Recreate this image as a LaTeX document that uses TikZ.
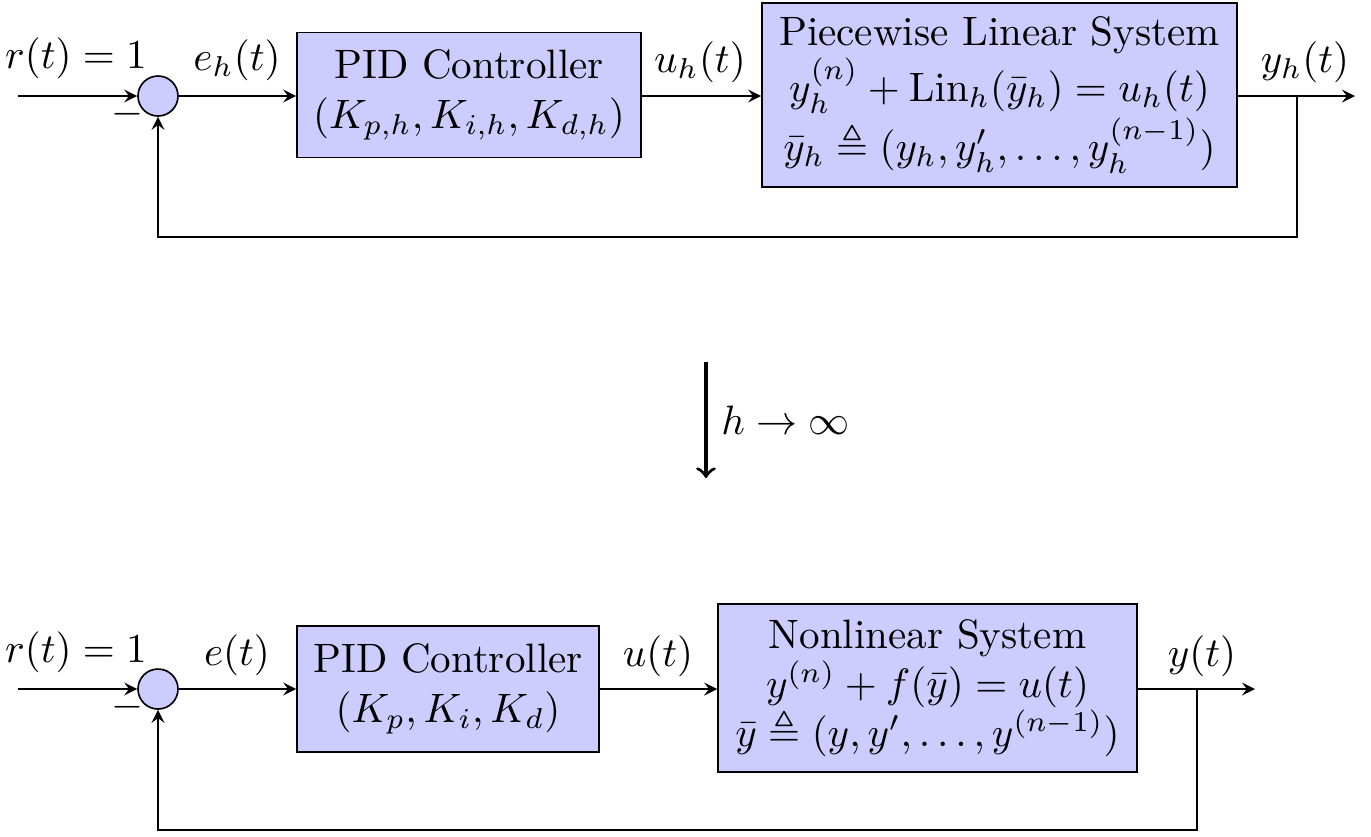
\documentclass[tikz,border=0pt]{standalone}
\usepackage{amsmath,amssymb}
\begin{document}
\begin{tikzpicture}[x=0.2435pt,y=-0.2435pt,
  blk/.style={draw, fill=blue!20, align=center, inner sep=0pt},
  sumnode/.style={circle, draw, fill=blue!20, minimum size=40*0.2435pt, inner sep=0pt},
  sig/.style={-stealth},
  lbl/.style={inner sep=0pt}]
\useasboundingbox (0,0) rectangle (1371,836);
% ---------- top loop ----------
\coordinate (in1) at (18,96);
\node[sumnode] (s1) at (158,96) {};
\node[blk, minimum width=344*0.2435pt, minimum height=125*0.2435pt] (pid1) at (469,95)
  {PID Controller\\ $(K_{p,h},K_{i,h},K_{d,h})$};
\node[blk, minimum width=475*0.2435pt, minimum height=184*0.2435pt] (pls) at (999.5,95)
  {Piecewise Linear System\\ $y_h^{(n)}+\mathrm{Lin}_h(\bar y_h)=u_h(t)$\\ $\bar y_h\triangleq(y_h,y'_h,\dots,y_h^{(n-1)})$};
\coordinate (out1) at (1355,96);
\coordinate (b1) at (1297,96);
\coordinate (c1) at (1297,237);
\coordinate (d1) at (158,237);
\draw[sig] (in1) -- (s1.west);
\draw[sig] (s1.east) -- (pid1.west |- s1.east);
\draw[sig] (pid1.east |- s1.east) -- (pls.west |- s1.east);
\draw[sig] (pls.east |- s1.east) -- (out1);
\draw[sig] (b1) -- (c1) -- (d1) -- (s1.south);
\node[lbl] (r1) at (76,58) {$r(t)=1$};
\node[lbl] (m1) at (127,114) {$-$};
\node[lbl] (e1) at (237,60) {$e_h(t)$};
\node[lbl] (u1) at (700,62) {$u_h(t)$};
\node[lbl] (y1) at (1305,62) {$y_h(t)$};
% ---------- limit arrow ----------
\coordinate (h1) at (706,362);
\coordinate (h2) at (706,478);
\draw[thick,->] (h1) -- (h2) node[midway,right] (hl) {$h\to\infty$};
% ---------- bottom loop ----------
\coordinate (in2) at (18,689);
\node[sumnode] (s2) at (158,689) {};
\node[blk, minimum width=302*0.2435pt, minimum height=126*0.2435pt] (pid2) at (448,689)
  {PID Controller\\ $(K_p,K_i,K_d)$};
\node[blk, minimum width=419*0.2435pt, minimum height=168*0.2435pt] (ns) at (927.5,688)
  {Nonlinear System\\ $y^{(n)}+f(\bar y)=u(t)$\\ $\bar y\triangleq(y,y',\dots,y^{(n-1)})$};
\coordinate (out2) at (1255,689);
\coordinate (b2) at (1197,689);
\coordinate (c2) at (1197,830);
\coordinate (d2) at (158,830);
\draw[sig] (in2) -- (s2.west);
\draw[sig] (s2.east) -- (pid2.west |- s2.east);
\draw[sig] (pid2.east |- s2.east) -- (ns.west |- s2.east);
\draw[sig] (ns.east |- s2.east) -- (out2);
\draw[sig] (b2) -- (c2) -- (d2) -- (s2.south);
\node[lbl] (r2) at (76,652) {$r(t)=1$};
\node[lbl] (m2) at (127,707) {$-$};
\node[lbl] (e2) at (237,655) {$e(t)$};
\node[lbl] (u2) at (658,656) {$u(t)$};
\node[lbl] (y2) at (1202,656) {$y(t)$};
\end{tikzpicture}
\end{document}
